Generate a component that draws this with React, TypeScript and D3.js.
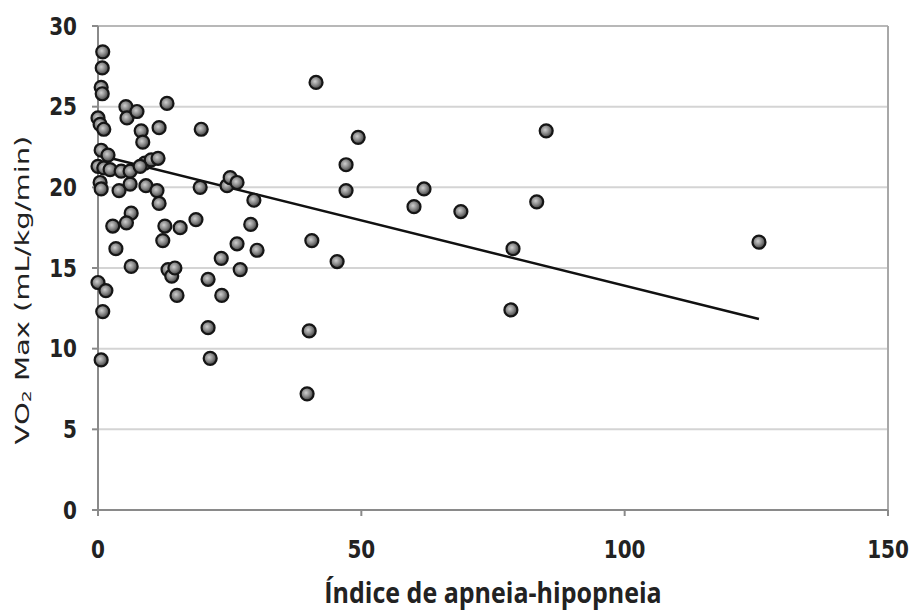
import React from "react";
import * as d3 from "d3";

// Apnea-hypopnea index (x) vs VO2 max (y)
const ahi: number[] = [
  0.9, 0.8, 0.6, 0.8, 0.0, 0.4, 1.1, 0.6, 1.9, 0.0, 1.1, 0.4, 0.6, 2.3, 2.8,
  3.4, 4.0, 4.4, 5.3, 5.5, 6.1, 6.3, 6.3, 7.4, 8.2, 8.5, 8.9, 9.1, 10.1, 11.6,
  11.2, 11.6, 12.3, 12.7, 13.1, 13.3, 14.0, 14.6, 15.0, 15.6, 18.6, 19.4, 19.6,
  20.9, 20.9, 21.3, 23.4, 23.5, 24.5, 25.1, 26.4, 26.4, 27.0, 29.0, 29.6, 30.2,
  0.0, 1.5, 0.9, 0.6, 39.7, 40.1, 40.6, 41.4, 45.4, 47.1, 47.1, 49.4, 60.0,
  61.9, 68.9, 78.4, 78.8, 83.3, 85.1, 125.5, 6.1, 8.0, 5.4, 11.4,
];
const vo2: number[] = [
  28.4, 27.4, 26.2, 25.8, 24.3, 23.9, 23.6, 22.3, 22.0, 21.3, 21.2, 20.3, 19.9,
  21.1, 17.6, 16.2, 19.8, 21.0, 25.0, 24.3, 20.2, 18.4, 15.1, 24.7, 23.5, 22.8,
  21.5, 20.1, 21.7, 23.7, 19.8, 19.0, 16.7, 17.6, 25.2, 14.9, 14.5, 15.0, 13.3,
  17.5, 18.0, 20.0, 23.6, 14.3, 11.3, 9.4, 15.6, 13.3, 20.1, 20.6, 20.3, 16.5,
  14.9, 17.7, 19.2, 16.1, 14.1, 13.6, 12.3, 9.3, 7.2, 11.1, 16.7, 26.5, 15.4,
  21.4, 19.8, 23.1, 18.8, 19.9, 18.5, 12.4, 16.2, 19.1, 23.5, 16.6, 21.0, 21.3,
  17.8, 21.8,
];

// Linear trend line: VO2 = intercept + slope * AHI, drawn over the data range
const trendIntercept = 22.0;
const trendSlope = -0.081;
const trendRange: number[] = [0, 125.5];

const xTicks: number[] = [0, 50, 100, 150];
const yTicks: number[] = [0, 5, 10, 15, 20, 25, 30];

const xTitle = "Índice de apneia-hipopneia";

export default function App() {
  const W = 918;
  const H = 612;
  const left = 98;
  const right = 888;
  const top = 26;
  const bottom = 510;

  const x = d3.scaleLinear().domain([0, 150]).range([left, right]);
  const y = d3.scaleLinear().domain([0, 30]).range([bottom, top]);

  const points = ahi.map((a, i) => ({ a, v: vo2[i] }));
  const trend = d3
    .line<number>()
    .x((d) => x(d))
    .y((d) => y(trendIntercept + trendSlope * d));

  const tickFont = "'DejaVu Sans', Verdana, sans-serif";

  return (
    <svg
      width={W}
      height={H}
      style={{ position: "absolute", left: 0, top: 0, background: "#fff" }}
    >
      <defs>
        <radialGradient id="dotFill" cx="42%" cy="42%" r="60%">
          <stop offset="0%" stopColor="#cfcfcf" />
          <stop offset="50%" stopColor="#8a8a8a" />
          <stop offset="100%" stopColor="#3a3a3a" />
        </radialGradient>
      </defs>

      {/* horizontal gridlines */}
      {yTicks.map((t) => (
        <line
          key={"g" + t}
          x1={left}
          x2={right}
          y1={y(t)}
          y2={y(t)}
          stroke={t === 30 ? "#b8b8b8" : "#d4d4d4"}
          strokeWidth={2}
        />
      ))}

      {/* plot frame: right border, left and bottom axes */}
      <line x1={right} x2={right} y1={top} y2={bottom} stroke="#a8a8a8" strokeWidth={2} />
      <line x1={left} x2={left} y1={top} y2={bottom} stroke="#8a8a8a" strokeWidth={2} />
      <line x1={left} x2={right} y1={bottom} y2={bottom} stroke="#8a8a8a" strokeWidth={2} />

      {/* y ticks and labels */}
      {yTicks.map((t) => (
        <g key={"y" + t}>
          <line x1={left - 6} x2={left} y1={y(t)} y2={y(t)} stroke="#8a8a8a" strokeWidth={2} />
          <text
            transform={`translate(${left - 21},${y(t)}) scale(1,1.2)`}
            textAnchor="end"
            dominantBaseline="central"
            fontFamily={tickFont}
            fontWeight="bold"
            fontSize={20}
            fill="#222"
          >
            {t}
          </text>
        </g>
      ))}

      {/* x ticks and labels */}
      {xTicks.map((t) => (
        <g key={"x" + t}>
          <line x1={x(t)} x2={x(t)} y1={bottom} y2={bottom + 6} stroke="#8a8a8a" strokeWidth={2} />
          <text
            transform={`translate(${x(t)},${bottom + 39}) scale(1,1.2)`}
            textAnchor="middle"
            dominantBaseline="central"
            fontFamily={tickFont}
            fontWeight="bold"
            fontSize={20}
            fill="#222"
          >
            {t}
          </text>
        </g>
      ))}

      {/* trend line */}
      <path d={trend(trendRange) ?? ""} fill="none" stroke="#111" strokeWidth={2.5} />

      {/* data points */}
      {points.map((p, i) => (
        <circle
          key={i}
          cx={x(p.a)}
          cy={y(p.v)}
          r={6.5}
          fill="url(#dotFill)"
          stroke="#151515"
          strokeWidth={2.2}
        />
      ))}

      {/* axis titles */}
      <text
        transform={`translate(${(left + right) / 2},${592}) scale(1,1.15)`}
        textAnchor="middle"
        dominantBaseline="central"
        fontFamily="'Open Sans', sans-serif"
        fontWeight="bold"
        fontSize={25}
        fill="#222"
      >
        {xTitle}
      </text>
      <text
        transform={`translate(22,290) rotate(-90) scale(1.45,1)`}
        textAnchor="middle"
        dominantBaseline="central"
        fontFamily={tickFont}
        fontSize={20}
        fill="#222"
      >
        VO
        <tspan fontSize={13} dy={4}>2</tspan>
        <tspan dy={-4}> Max (mL/kg/min)</tspan>
      </text>
    </svg>
  );
}
